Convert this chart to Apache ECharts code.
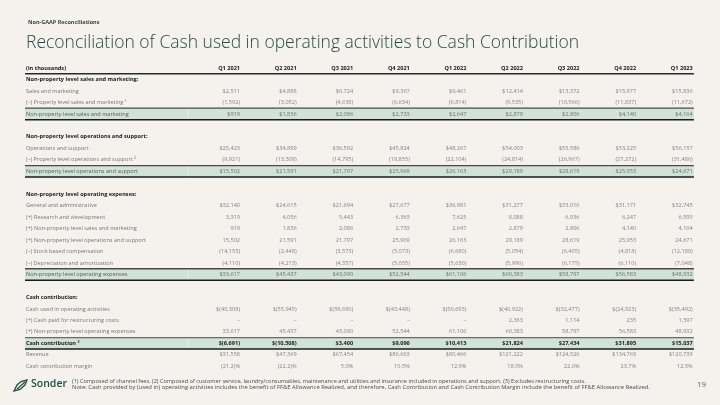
<!DOCTYPE html>
<html><head><meta charset="utf-8">
<script src="https://cdn.jsdelivr.net/npm/echarts@6/dist/echarts.min.js"></script>
<style>html,body{margin:0;padding:0;background:#f5f1ed;}#c{width:720px;height:405px;}</style>
</head><body><div id="c"></div>
<script>
const quarters = ['Q1 2021','Q2 2021','Q3 2021','Q4 2021','Q1 2022','Q2 2022','Q3 2022','Q4 2022','Q1 2023'];
const salesAndMarketing = [2511,4888,6724,9367,9461,12414,13372,15977,15836];
const propertySalesAndMarketing = [-1592,-3052,-4638,-6634,-6814,-9535,-10566,-11837,-11672];
const nonPropertySalesAndMarketing = [919,1836,2086,2733,2647,2879,2806,4140,4164];
const operationsAndSupport = [25423,34899,36592,45824,48267,54003,55586,53225,56157];
const propertyOperationsAndSupport = [-9921,-13308,-14795,-19855,-22104,-24814,-26967,-27272,-31486];
const nonPropertyOperationsAndSupport = [15502,21591,21797,25969,26163,29189,28619,25953,24671];
const generalAndAdministrative = [32140,24615,21694,27677,36981,31277,33016,31171,32745];
const researchAndDevelopment = [3319,4056,5443,6363,7625,8088,6936,6247,6590];
const stockBasedCompensation = [-14153,-2448,-3573,-5073,-6680,-5054,-6405,-4818,-12180];
const depreciationAndAmortization = [-4110,-4213,-4357,-5035,-5630,-5996,-6175,-6110,-7048];
const nonPropertyOperatingExpenses = [33617,45437,43090,52544,61106,60383,58797,56583,48932];
const cashUsedInOperatingActivities = [-40308,-55945,-39690,-43448,-50693,-40922,-32477,-24923,-35492];
const restructuringCosts = [null,null,null,null,null,2363,1114,235,1597];
const cashContribution = [-6691,-10508,3400,9096,10413,21824,27434,31895,15037];
const revenue = [31558,47369,67454,86663,80466,121222,124526,134769,120739];
const cashContributionMargin = [-21.2,-22.2,5.0,10.5,12.9,18.0,22.0,23.7,12.5];

function fmt(v, dollar){
  if (v === null || v === undefined) return '–';
  let s = Math.abs(v).toLocaleString('en-US');
  if (v < 0) s = '(' + s + ')';
  return dollar ? '$' + s : s;
}
function pct(v){ return v < 0 ? '(' + Math.abs(v).toFixed(1) + ')%' : v.toFixed(1) + '%'; }
const D = a => a.map(v => fmt(v, true));
const N = a => a.map(v => fmt(v, false));

const rows = [
  {label:'(in thousands)', kind:'head', cells: quarters},
  {label:'Non-property level sales and marketing:', kind:'section'},
  {label:'Sales and marketing', kind:'line', cells: D(salesAndMarketing)},
  {label:'(–) Property level sales and marketing ¹', kind:'line', cells: N(propertySalesAndMarketing)},
  {label:'Non-property level sales and marketing', kind:'sub', cells: D(nonPropertySalesAndMarketing)},
  {kind:'blank'},
  {label:'Non-property level operations and support:', kind:'section'},
  {label:'Operations and support', kind:'line', cells: D(operationsAndSupport)},
  {label:'(–) Property level operations and support ²', kind:'line', cells: N(propertyOperationsAndSupport)},
  {label:'Non-property level operations and support', kind:'sub', cells: D(nonPropertyOperationsAndSupport)},
  {kind:'blank'},
  {label:'Non-property level operating expenses:', kind:'section'},
  {label:'General and administrative', kind:'line', cells: D(generalAndAdministrative)},
  {label:'(+) Research and development', kind:'line', cells: N(researchAndDevelopment)},
  {label:'(+) Non-property level sales and marketing', kind:'line', cells: N(nonPropertySalesAndMarketing)},
  {label:'(+) Non-property level operations and support', kind:'line', cells: N(nonPropertyOperationsAndSupport)},
  {label:'(–) Stock based compensation', kind:'line', cells: N(stockBasedCompensation)},
  {label:'(–) Depreciation and amortization', kind:'line', cells: N(depreciationAndAmortization)},
  {label:'Non-property level operating expenses', kind:'sub', cells: D(nonPropertyOperatingExpenses)},
  {kind:'blank'},
  {label:'Cash contribution:', kind:'section'},
  {label:'Cash used in operating activities', kind:'line', cells: D(cashUsedInOperatingActivities)},
  {label:'(+) Cash paid for restructuring costs', kind:'line', cells: N(restructuringCosts)},
  {label:'(+) Non-property level operating expenses', kind:'line', cells: N(nonPropertyOperatingExpenses)},
  {label:'Cash contribution ³', kind:'total', cells: D(cashContribution)},
  {label:'Revenue', kind:'line', cells: D(revenue)},
  {label:'Cash contribution margin', kind:'line', cells: cashContributionMargin.map(pct)}
];

const FONT = 'Open Sans';
const X_MIN = -2.8, X_MAX = 9.04, X_END = 9.02, X_DIV = 0.08;

function txt(x, y, text, align, color, weight, size){
  return {type:'text', style:{x:x, y:y, text:text, fill:color, fontFamily:FONT, fontSize:size||5.6, fontWeight:weight||'normal',
    textAlign:align, align:align, textVerticalAlign:'middle', verticalAlign:'middle'}};
}

function renderItem(params, api){
  const idx = api.value(1);
  const r = rows[idx];
  const children = [];
  if (r.kind === 'blank') return {type:'group', children:children};
  const p = api.coord([X_MIN, idx]);
  const h = api.size([0, 1])[1];
  const xl = p[0], y = p[1];
  const xr = api.coord([X_END, idx])[0];
  const top = y - h/2, bot = y + h/2;
  if (r.kind === 'sub' || r.kind === 'total'){
    children.push({type:'rect', shape:{x:xl, y:top, width:xr-xl, height:h}, style:{fill:'#d1e2d8'}});
    const xd = api.coord([X_DIV, idx])[0];
    children.push({type:'line', shape:{x1:xd, y1:top, x2:xd, y2:bot}, style:{stroke:'#e2ece6', lineWidth:1}});
    children.push({type:'line', shape:{x1:xl, y1:top, x2:xr, y2:top}, style:{stroke: r.kind==='total' ? '#6a6a6a' : '#4a4a4a', lineWidth:1.3}});
    children.push({type:'line', shape:{x1:xl, y1:bot, x2:xr, y2:bot}, style:{stroke:'#1c1c1c', lineWidth:1.5}});
  }
  if (r.kind === 'head'){
    children.push({type:'line', shape:{x1:xl, y1:bot, x2:xr, y2:bot}, style:{stroke:'#2a2a2a', lineWidth:1.3}});
  }
  const bold = (r.kind === 'head' || r.kind === 'section' || r.kind === 'total');
  const labelColor = bold ? '#1b1b1b' : (r.kind === 'sub' ? '#5a5a5a' : '#777777');
  children.push(txt(xl + 1, y, r.label, 'left', labelColor, bold ? 'bold' : 'normal'));
  if (r.cells){
    r.cells.forEach(function(c, i){
      const q = api.coord([i + 1, idx]);
      const col = bold ? '#1b1b1b' : (r.kind === 'sub' ? '#707070' : '#858585');
      children.push(txt(q[0], y, c, 'right', col, bold ? 'bold' : 'normal'));
    });
  }
  return {type:'group', children:children};
}

const chart = echarts.init(document.getElementById('c'), null, {renderer:'canvas'});
chart.setOption({
  backgroundColor:'#f5f1ed',
  animation:false,
  title:[
    {text:'Non-GAAP Reconciliations', left:23, top:14, textStyle:{fontSize:5.5, fontWeight:'bold', color:'#3a4541', fontFamily:FONT}},
    {text:'Reconciliation of Cash used in operating activities to Cash Contribution', left:21, top:29, textStyle:{fontSize:17.5, fontWeight:300, color:'#244c42', fontFamily:FONT}}
  ],
  grid:{left:25, width:670, top:62.3, height:309.7},
  xAxis:{type:'value', min:X_MIN, max:X_MAX, show:false},
  yAxis:{type:'value', min:-0.5, max:26.5, inverse:true, show:false},
  series:[{type:'custom', renderItem:renderItem, data: rows.map(function(r, i){ return [0, i]; }), clip:false, silent:true}],
  graphic:[
    {type:'polygon', shape:{points:[[14,391],[17,385],[21,381.5],[27,380],[25,385],[20,389.5]]}, style:{fill:'none', stroke:'#244c42', lineWidth:1.3}},
    {type:'line', shape:{x1:17, y1:389, x2:25, y2:382}, style:{stroke:'#244c42', lineWidth:1.2}},
    {type:'text', left:31, top:379, style:{text:'Sonder', fill:'#244c42', fontFamily:FONT, fontSize:10.5, fontWeight:600}},
    {type:'text', left:72, top:378.3, style:{text:'(1) Composed of channel fees. (2) Composed of customer service, laundry/consumables, maintenance and utilities and insurance included in operations and support. (3) Excludes restructuring costs.', fill:'#4a4a4a', fontFamily:FONT, fontSize:5.6}},
    {type:'text', left:72, top:384.3, style:{text:'Note: Cash provided by (used in) operating activities includes the benefit of FF&E Allowance Realized, and therefore, Cash Contribution and Cash Contribution Margin include the benefit of FF&E Allowance Realized.', fill:'#4a4a4a', fontFamily:FONT, fontSize:5.85}},
    {type:'text', left:697, top:381, style:{text:'19', fill:'#4f6c63', fontFamily:FONT, fontSize:8}}
  ]
});
</script></body></html>
